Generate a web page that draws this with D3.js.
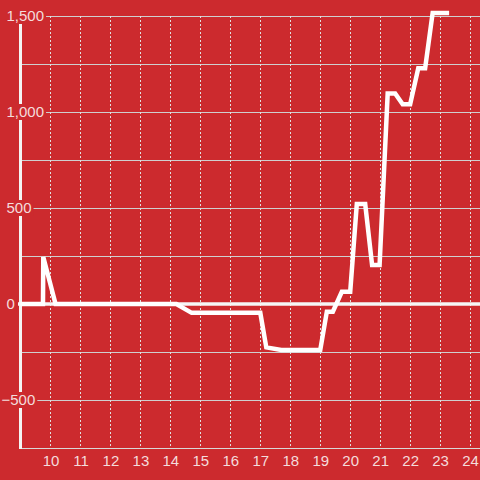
<!DOCTYPE html>
<html>
<head>
<meta charset="utf-8">
<script src="https://cdn.jsdelivr.net/npm/d3@7"></script>
<style>
  html, body { margin: 0; padding: 0; background: #cc2a2e; }
  svg { display: block; }
  text { font-family: "Liberation Sans", Arial, sans-serif; font-size: 15px; fill: #f4dcdc; }
</style>
</head>
<body>
<svg id="chart" width="480" height="480"></svg>
<script>
// hour of day
const hours = [9, 9.75, 9.76, 10.17, 14.2, 14.71, 17.0, 17.2, 17.7, 19.0, 19.22, 19.42, 19.72, 20.0,
  20.22, 20.5, 20.73, 20.98, 21.25, 21.5, 21.75, 22.0, 22.27, 22.5, 22.75, 23.3]
const values = [0, 0, 245, 0, 0, -46, -46, -226, -240, -240, -40, -40, 64, 64,
  521, 521, 203, 203, 1096, 1096, 1040, 1040, 1228, 1228, 1516, 1516]

const xTicks = [10, 11, 12, 13, 14, 15, 16, 17, 18, 19, 20, 21, 22, 23, 24]
const yGrid = [-750, -500, -250, 0, 250, 500, 750, 1000, 1250, 1500]
const yLabels = [-500, 0, 500, 1000, 1500]

const width = 480, height = 480
const svg = d3.select("#chart")

const x = d3.scaleLinear().domain([9, 24.33]).range([20.5, 480])
const y = d3.scaleLinear().domain([-750, 1500]).range([448, 16])

// horizontal grid
svg.append("g").selectAll("line")
  .data(yGrid.filter(d => d !== 0 && d !== -750))
  .join("line")
    .attr("x1", x(9)).attr("x2", width)
    .attr("y1", d => Math.round(y(d)) + 0.5).attr("y2", d => Math.round(y(d)) + 0.5)
    .attr("stroke", "#cfcfcf")
    .attr("stroke-width", 1)

// vertical dashed grid
svg.append("g").selectAll("line")
  .data(xTicks)
  .join("line")
    .attr("x1", d => Math.round(x(d)) + 0.5).attr("x2", d => Math.round(x(d)) + 0.5)
    .attr("y1", y(1500)).attr("y2", y(-750))
    .attr("stroke", "#e0e0e0")
    .attr("stroke-width", 1)
    .attr("stroke-dasharray", "2,2")

// bottom axis line
svg.append("line")
  .attr("x1", x(9)).attr("x2", width)
  .attr("y1", y(-750) + 0.5).attr("y2", y(-750) + 0.5)
  .attr("stroke", "#d8d8d8")

// left axis line
svg.append("line")
  .attr("x1", x(9)).attr("x2", x(9))
  .attr("y1", y(1500)).attr("y2", y(-750) + 1)
  .attr("stroke", "#f4f4f4")
  .attr("stroke-width", 3)

// zero line
svg.append("line")
  .attr("x1", 18).attr("x2", width)
  .attr("y1", y(0)).attr("y2", y(0))
  .attr("stroke", "#f6f6f6")
  .attr("stroke-width", 3.5)

// data
const line = d3.line()
  .x((d, i) => x(hours[i]))
  .y(d => y(d))

svg.append("path")
  .attr("d", line(values))
  .attr("fill", "none")
  .attr("stroke", "#ffffff")
  .attr("stroke-width", 4.5)
  .attr("stroke-linejoin", "miter")

// y labels sit on a red box over the axis
const fmt = d3.format(",")
const yLab = svg.append("g").selectAll("g")
  .data(yLabels)
  .join("g")
    .attr("transform", d => `translate(0,${y(d)})`)

yLab.append("text")
  .attr("x", d => d < 0 ? 1.5 : 6.5)
  .attr("dy", "0.35em")
  .text(d => fmt(d))
  .each(function () {
    const bb = this.getBBox()
    d3.select(this.parentNode).insert("rect", "text")
      .attr("x", 0).attr("y", -8)
      .attr("width", bb.x + bb.width + 2).attr("height", 16)
      .attr("fill", "#cc2a2e")
  })

// x labels
svg.append("g").selectAll("text")
  .data(xTicks)
  .join("text")
    .attr("x", d => x(d) + 0.5)
    .attr("y", 466)
    .attr("text-anchor", "middle")
    .text(d => d)
</script>
</body>
</html>
